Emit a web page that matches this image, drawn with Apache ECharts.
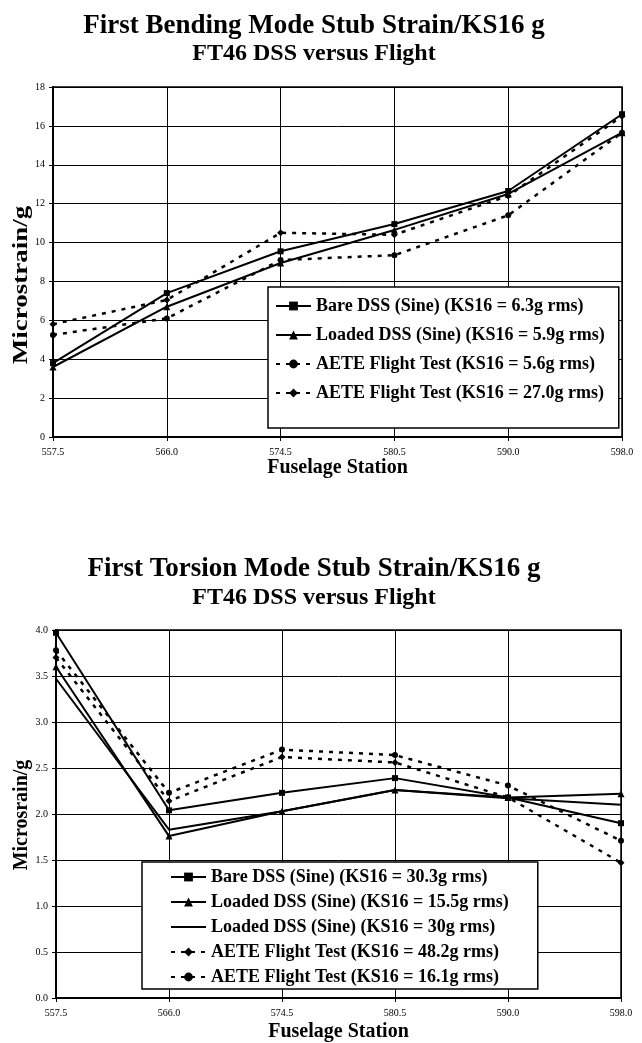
<!DOCTYPE html>
<html>
<head>
<meta charset="utf-8">
<script src="https://cdn.jsdelivr.net/npm/echarts@6/dist/echarts.min.js"></script>
<style>
  html, body { margin: 0; padding: 0; background: #fff; }
  #main { width: 642px; height: 1043px; }
</style>
</head>
<body>
<div id="main"></div>
<script>
// stations along the x axis (shared by both charts)
var stations = ['557.5', '566.0', '574.5', '580.5', '590.0', '598.0'];

// first bending mode
var bendBare = [3.8, 7.4, 9.55, 10.95, 12.65, 16.6];
var bendLoaded = [3.6, 6.7, 8.95, 10.65, 12.5, 15.65];
var bendFlight56 = [5.25, 6.1, 9.1, 9.35, 11.4, 15.65];
var bendFlight270 = [5.8, 7.05, 10.5, 10.4, 12.4, 16.5];

// first torsion mode
var torBare = [3.97, 2.04, 2.23, 2.39, 2.18, 1.9];
var torLoaded155 = [3.6, 1.76, 2.03, 2.26, 2.18, 2.22];
var torLoaded30 = [3.47, 1.83, 2.03, 2.26, 2.17, 2.1];
var torFlight482 = [3.7, 2.14, 2.62, 2.56, 2.18, 1.47];
var torFlight161 = [3.78, 2.23, 2.7, 2.64, 2.31, 1.71];

var bendNames = [
  'Bare DSS (Sine) (KS16 = 6.3g rms)',
  'Loaded DSS (Sine) (KS16 = 5.9g rms)',
  'AETE Flight Test (KS16 = 5.6g rms)',
  'AETE Flight Test (KS16 = 27.0g rms)'
];
var torNames = [
  'Bare DSS (Sine) (KS16 = 30.3g rms)',
  'Loaded DSS (Sine) (KS16 = 15.5g rms)',
  'Loaded DSS (Sine) (KS16 = 30g rms)',
  'AETE Flight Test (KS16 = 48.2g rms)',
  'AETE Flight Test (KS16 = 16.1g rms)'
];

var serif = '"Liberation Serif", "Times New Roman", serif';
var dots = [4, 6];

function line(name, data, idx, symbol, size, dashed) {
  var noMark = symbol === 'none';
  return {
    name: name,
    type: 'line',
    xAxisIndex: idx,
    yAxisIndex: idx,
    data: data,
    symbol: symbol,
    symbolSize: size,
    showSymbol: !noMark,
    color: '#000',
    lineStyle: { color: '#000', width: dashed ? 2.5 : 2, type: dashed ? dots : 'solid' },
    // plain line: hide the dot the legend draws by default
    itemStyle: { color: noMark ? 'rgba(0,0,0,0)' : '#000' },
    animation: false
  };
}

function xAxis(idx, gap) {
  return {
    type: 'category',
    gridIndex: idx,
    data: stations,
    boundaryGap: false,
    name: 'Fuselage Station',
    nameLocation: 'middle',
    nameGap: gap,
    nameTextStyle: { fontFamily: serif, fontSize: 20, fontWeight: 'bold', color: '#000' },
    axisLine: { lineStyle: { color: '#000', width: 2 } },
    axisTick: { show: true, length: 4, lineStyle: { color: '#000' } },
    axisLabel: { fontFamily: serif, fontSize: 10, color: '#000', margin: 10 },
    splitLine: { show: true, lineStyle: { color: '#000', width: 1 } }
  };
}

function titleLine(text, top, size) {
  return {
    text: text, left: 314, top: top, textAlign: 'center', padding: 0,
    textStyle: { fontFamily: serif, fontSize: size, fontWeight: 'bold', color: '#000', lineHeight: size }
  };
}

var chart = echarts.init(document.getElementById('main'));

var option = {
  backgroundColor: '#fff',
  animation: false,
  title: [
    titleLine('First Bending Mode Stub Strain/KS16 g', 13, 27),
    titleLine('FT46 DSS versus Flight', 42, 24),
    titleLine('First Torsion Mode Stub Strain/KS16 g', 556, 27),
    titleLine('FT46 DSS versus Flight', 586, 24)
  ],
  grid: [
    { left: 53, right: 20, top: 87, height: 350, show: true, borderColor: '#000', borderWidth: 1.5, backgroundColor: '#fff' },
    { left: 56, right: 21, top: 630, height: 370, show: true, borderColor: '#000', borderWidth: 1.5, backgroundColor: '#fff' }
  ],
  xAxis: [xAxis(0, 20), xAxis(1, 24)],
  yAxis: [{
    type: 'value', gridIndex: 0, min: 0, max: 18, interval: 2,
    axisLine: { show: true, lineStyle: { color: '#000', width: 2 } },
    axisTick: { show: true, length: 4, lineStyle: { color: '#000' } },
    axisLabel: { fontFamily: serif, fontSize: 10, color: '#000', margin: 8 },
    splitLine: { lineStyle: { color: '#000', width: 1 } }
  }, {
    type: 'value', gridIndex: 1, min: 0, max: 4, interval: 0.5,
    axisLine: { show: true, lineStyle: { color: '#000', width: 2 } },
    axisTick: { show: true, length: 4, lineStyle: { color: '#000' } },
    axisLabel: { fontFamily: serif, fontSize: 10, color: '#000', margin: 8,
      formatter: function (v) { return v.toFixed(1); } },
    splitLine: { lineStyle: { color: '#000', width: 1 } }
  }],
  legend: [{
    data: bendNames,
    orient: 'vertical',
    left: 268, top: 287,
    padding: [10, 14, 26, 7],
    itemWidth: 35, itemHeight: 11, itemGap: 11,
    backgroundColor: '#fff', borderColor: '#000', borderWidth: 1.5, borderRadius: 0,
    textStyle: { fontFamily: serif, fontSize: 18, fontWeight: 'bold', color: '#000', lineHeight: 18 },
    selectedMode: false
  }, {
    data: torNames,
    orient: 'vertical',
    left: 142, top: 862,
    padding: [6, 29, 3, 28],
    itemWidth: 35, itemHeight: 11, itemGap: 7,
    backgroundColor: '#fff', borderColor: '#000', borderWidth: 1.5, borderRadius: 0,
    textStyle: { fontFamily: serif, fontSize: 18, fontWeight: 'bold', color: '#000', lineHeight: 18 },
    selectedMode: false
  }],
  graphic: [{
    type: 'text', x: 22, y: 285, rotation: Math.PI / 2, scaleX: 1.35,
    style: { text: 'Microstrain/g', font: 'bold 20px ' + serif, fill: '#000', textAlign: 'center', textVerticalAlign: 'middle' }
  }, {
    type: 'text', x: 22, y: 815, rotation: Math.PI / 2,
    style: { text: 'Microsrain/g', font: 'bold 20px ' + serif, fill: '#000', textAlign: 'center', textVerticalAlign: 'middle' }
  }],
  series: [
    line(bendNames[0], bendBare, 0, 'rect', 6, false),
    line(bendNames[1], bendLoaded, 0, 'triangle', 7, false),
    line(bendNames[2], bendFlight56, 0, 'circle', 6, true),
    line(bendNames[3], bendFlight270, 0, 'diamond', 7, true),
    line(torNames[0], torBare, 1, 'rect', 6, false),
    line(torNames[1], torLoaded155, 1, 'triangle', 7, false),
    line(torNames[2], torLoaded30, 1, 'none', 0, false),
    line(torNames[3], torFlight482, 1, 'diamond', 7, true),
    line(torNames[4], torFlight161, 1, 'circle', 6, true)
  ]
};

chart.setOption(option);
</script>
</body>
</html>
